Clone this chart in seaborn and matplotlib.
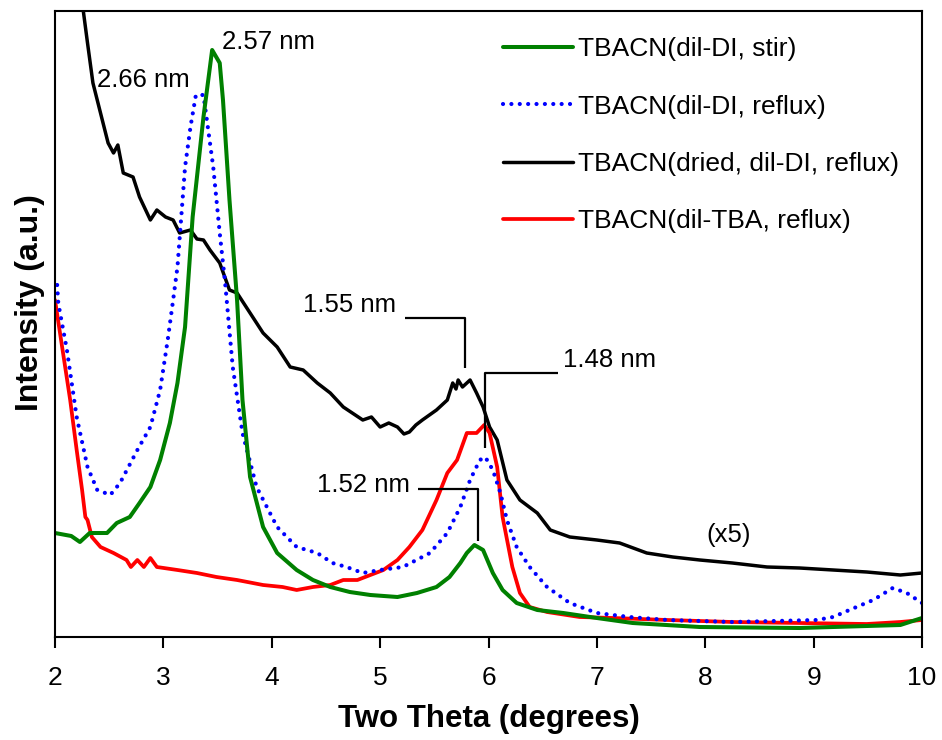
import matplotlib
matplotlib.use("Agg")
import matplotlib.pyplot as plt
import seaborn as sns
import pandas as pd

# ---- data (two theta in degrees, intensity in arbitrary units) ----
stir_tt = [2.00, 2.15, 2.23, 2.32, 2.48, 2.57, 2.69, 2.78, 2.88, 2.97, 3.06, 3.13, 3.20, 3.27, 3.37,
           3.45, 3.52, 3.55, 3.61, 3.68, 3.73, 3.80, 3.92, 4.05, 4.23, 4.38, 4.54, 4.72, 4.91,
           5.16, 5.34, 5.52, 5.64, 5.74, 5.80, 5.87, 5.95, 6.04, 6.13, 6.26, 6.45, 6.69, 7.00,
           7.33, 7.95, 8.87, 9.80, 10.00]
stir_i = [104, 101, 95, 104, 104, 114, 120, 134, 150, 177, 214, 254, 310, 420, 520,
          587, 574, 537, 437, 337, 237, 160, 110, 84, 67, 57, 50, 45, 42,
          40, 44, 50, 60, 74, 84, 92, 87, 64, 47, 34, 27, 24, 19,
          14, 10, 9, 12, 19]

dilref_tt = [2.02, 2.03, 2.11, 2.20, 2.30, 2.39, 2.44, 2.51, 2.60, 2.76, 2.88, 2.97, 3.04, 3.09,
             3.13, 3.20, 3.25, 3.30, 3.37, 3.41, 3.46, 3.52, 3.57, 3.64, 3.73, 3.86, 4.05, 4.23,
             4.42, 4.56, 4.69, 4.84, 5.00, 5.21, 5.46, 5.62, 5.74, 5.83, 5.92, 5.97, 6.04, 6.11,
             6.17, 6.26, 6.38, 6.54, 6.75, 7.00, 7.30, 7.65, 8.25, 9.03, 9.18, 9.33, 9.55, 9.73,
             9.86, 10.00]
dilref_i = [352, 334, 287, 220, 170, 147, 145, 142, 154, 187, 210, 247, 297, 337,
            370, 470, 510, 542, 542, 510, 470, 404, 354, 270, 204, 150, 110, 90,
            84, 74, 70, 64, 67, 70, 84, 104, 130, 157, 177, 180, 167, 144,
            117, 90, 70, 50, 34, 24, 20, 17, 15, 17, 20, 27, 37, 49,
            44, 34]

dried_tt = [2.23, 2.26, 2.30, 2.35, 2.42, 2.49, 2.54, 2.58, 2.63, 2.72, 2.78, 2.88, 2.94, 3.02,
            3.09, 3.15, 3.25, 3.31, 3.37, 3.43, 3.52, 3.61, 3.68, 3.80, 3.92, 4.05, 4.17, 4.29,
            4.42, 4.54, 4.66, 4.84, 4.92, 5.00, 5.08, 5.16, 5.22, 5.27, 5.33, 5.39, 5.52, 5.62,
            5.67, 5.70, 5.72, 5.76, 5.83, 5.89, 5.95, 6.01, 6.08, 6.17, 6.29, 6.45, 6.57, 6.75,
            7.00, 7.21, 7.46, 7.70, 7.95, 8.25, 8.57, 8.87, 9.18, 9.49, 9.80, 10.00]
dried_i = [667, 627, 594, 554, 524, 494, 484, 492, 464, 460, 440, 417, 427, 420,
           417, 404, 407, 398, 397, 387, 374, 347, 344, 324, 304, 290, 270, 267,
           254, 244, 230, 217, 220, 210, 214, 210, 203, 205, 212, 217, 227, 237,
           254, 248, 257, 250, 257, 244, 230, 210, 197, 157, 137, 124, 107, 100,
           97, 94, 84, 80, 77, 74, 70, 69, 67, 65, 62, 64]

tba_tt = [2.00, 2.07, 2.14, 2.20, 2.25, 2.28, 2.30, 2.34, 2.42, 2.54, 2.66, 2.70, 2.76, 2.82,
          2.88, 2.94, 3.13, 3.31, 3.49, 3.68, 3.92, 4.10, 4.23, 4.38, 4.54, 4.66, 4.79, 4.91,
          5.03, 5.16, 5.27, 5.39, 5.52, 5.62, 5.71, 5.80, 5.89, 5.96, 6.01, 6.08, 6.13, 6.22,
          6.29, 6.38, 6.54, 6.84, 7.15, 7.65, 8.25, 8.87, 9.49, 9.80, 10.00]
tba_i = [337, 287, 237, 187, 147, 120, 117, 100, 90, 84, 77, 70, 77, 70,
         79, 70, 67, 64, 60, 57, 52, 50, 47, 50, 52, 57, 57, 62,
         67, 77, 90, 107, 137, 164, 177, 204, 204, 212, 204, 170, 120, 70,
         44, 30, 25, 20, 19, 17, 15, 14, 13, 15, 17]

series_labels = ["TBACN(dil-DI, stir)", "TBACN(dil-DI, reflux)",
                 "TBACN(dried, dil-DI, reflux)", "TBACN(dil-TBA, reflux)"]

# peak annotations: text, text x, text y, bracket points (x list, y list)
ann_text = ["2.57 nm", "2.66 nm", "1.55 nm", "1.48 nm", "1.52 nm", "(x5)"]
ann_x = [3.54, 2.39, 4.29, 6.69, 4.42, 8.01]
ann_y = [595, 557, 332, 277, 152, 102]
bracket_x = [[5.23, 5.78, 5.78], [6.64, 5.97, 5.97], [5.35, 5.90, 5.90]]
bracket_y = [[319, 319, 269], [264, 264, 189], [148, 148, 96]]

x_ticks = [2, 3, 4, 5, 6, 7, 8, 9, 10]

# ---- plotting ----
sns.set_theme(style="white")
plt.rcParams["font.family"] = ["Liberation Sans", "DejaVu Sans"]
plt.rcParams["text.color"] = "black"
plt.rcParams["axes.labelcolor"] = "black"
plt.rcParams["xtick.color"] = "black"

fig = plt.figure(figsize=(9.42, 7.40), dpi=100)
ax = fig.add_axes([55 / 942, 1 - 637 / 740, 867 / 942, 626 / 740])

frames = [
    pd.DataFrame({"tt": stir_tt, "I": stir_i}),
    pd.DataFrame({"tt": dilref_tt, "I": dilref_i}),
    pd.DataFrame({"tt": dried_tt, "I": dried_i}),
    pd.DataFrame({"tt": tba_tt, "I": tba_i}),
]
colors = ["#008000", "#0000ff", "#000000", "#ff0000"]
styles = ["-", (0, (0.01, 2.0)), "-", "-"]
widths = [2.9, 3.0, 2.5, 2.7]
order = [2, 3, 1, 0]  # draw order: black, red, blue, green on top
for k in order:
    sns.lineplot(data=frames[k], x="tt", y="I", ax=ax, color=colors[k],
                 linestyle=styles[k], linewidth=widths[k],
                 dash_capstyle="round", solid_joinstyle="round",
                 estimator=None, sort=False, label=series_labels[k])

for bx, by in zip(bracket_x, bracket_y):
    ax.plot(bx, by, color="black", lw=1.6, solid_capstyle="butt")

for t, x, y in zip(ann_text, ann_x, ann_y):
    ax.text(x, y, t, fontsize=18.5, ha="left", va="center", color="black")

ax.set_xlim(2, 10)
ax.set_ylim(0, 626)
ax.set_xticks(x_ticks)
ax.set_xticklabels([str(v) for v in x_ticks])
ax.set_yticks([])
ax.tick_params(axis="x", direction="out", length=8, width=1.5, color="black",
               labelcolor="black", labelsize=19, pad=13, bottom=True)
for s in ax.spines.values():
    s.set_color("black")
    s.set_linewidth(1.5)

ax.set_xlabel("Two Theta (degrees)", fontsize=22.5, fontweight="bold", va="center",
              color="black")
ax.xaxis.set_label_coords(0.5, -0.131)
ax.set_ylabel("Intensity (a.u.)", fontsize=23, fontweight="bold", va="center",
              color="black")
ax.yaxis.set_label_coords(-0.029, 0.535)

handles, labels = ax.get_legend_handles_labels()
hmap = dict(zip(labels, handles))
leg = ax.legend([hmap[l] for l in series_labels], series_labels, loc="upper left",
                bbox_to_anchor=(0.517, 0.958), frameon=False, fontsize=19,
                handlelength=2.65, handletextpad=0.2, labelspacing=1.26,
                borderaxespad=0, borderpad=0)
for txt in leg.get_texts():
    txt.set_color("black")

fig.savefig("out.png", dpi=100)
